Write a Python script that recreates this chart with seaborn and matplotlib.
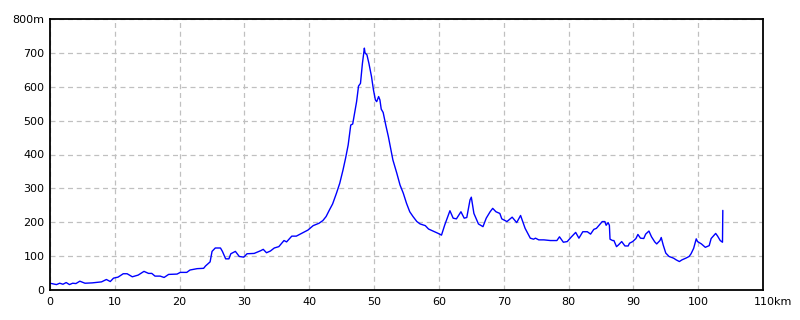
import matplotlib
matplotlib.use("Agg")
import matplotlib.pyplot as plt
import matplotlib.transforms as mtransforms
import seaborn as sns
import pandas as pd

km = [0.0, 0.5, 1.0, 1.5, 2.0, 2.5, 3.0, 3.5, 4.0, 4.6, 5.4, 6.5, 7.95, 8.7, 9.3, 9.8,
      10.5, 11.3, 11.9, 12.7, 13.6, 14.5, 15.2, 15.7, 16.2, 17.0, 17.6, 18.3, 19.6, 20.1,
      21.1, 21.6, 22.7, 23.7, 24.0, 24.7, 25.0, 25.5, 26.3, 26.6, 27.1, 27.6, 27.9, 28.6,
      29.2, 29.9, 30.4, 31.5, 32.5, 32.9, 33.4, 34.0, 34.6, 35.3, 36.1, 36.5, 37.3, 38.0,
      38.8, 39.8, 40.6, 41.5, 42.1, 42.6, 43.1, 43.6, 44.2, 44.7, 45.2, 45.6, 46.0, 46.4,
      46.7, 46.9, 47.3, 47.6, 47.9, 48.2, 48.5, 48.6, 48.9, 49.2, 49.6, 49.9, 50.2, 50.4,
      50.7, 50.9, 51.1, 51.4, 51.8, 52.2, 52.5, 52.9, 53.5, 54.0, 54.5, 55.0, 55.5, 56.0,
      56.6, 57.1, 57.9, 58.4, 59.1, 59.9, 60.4, 60.9, 61.7, 62.2, 62.7, 63.4, 63.9, 64.3,
      64.8, 65.0, 65.4, 66.1, 66.8, 67.3, 67.9, 68.3, 68.8, 69.4, 69.7, 70.5, 71.3, 72.0,
      72.6, 73.3, 74.1, 74.6, 74.9, 75.4, 76.2, 77.2, 78.2, 78.6, 79.2, 79.8, 80.4, 81.1,
      81.6, 82.2, 82.9, 83.4, 83.9, 84.3, 85.2, 85.6, 85.8, 86.1, 86.3, 86.4, 86.8, 87.0,
      87.4, 87.7, 88.2, 88.7, 89.2, 89.4, 89.9, 90.4, 90.7, 91.1, 91.6, 91.9, 92.4, 92.8,
      93.3, 93.6, 94.1, 94.3, 94.6, 95.0, 95.5, 96.2, 96.6, 97.1, 97.5, 98.1, 98.6, 98.9,
      99.3, 99.7, 99.9, 100.5, 101.1, 101.7, 102.0, 102.7, 103.0, 103.4, 103.75, 103.8]
elev = [20, 18, 16, 20, 17, 22, 16, 20, 19, 26, 20, 21, 24, 31, 25, 35,
        38, 48, 48, 39, 44, 55, 49, 49, 41, 41, 37, 46, 47, 52,
        52, 59, 63, 64, 71, 83, 114, 124, 124, 114, 92, 92, 107, 114,
        99, 97, 107, 108, 116, 120, 110, 115, 124, 128, 146, 142, 159, 159,
        167, 177, 190, 197, 205, 217, 236, 254, 286, 315, 354, 389, 428, 487,
        490, 512, 556, 602, 610, 669, 714, 700, 694, 669, 630, 591, 561, 556,
        571, 561, 534, 524, 487, 453, 423, 384, 345, 310, 286, 256, 231, 217,
        202, 195, 190, 180, 174, 167, 162, 192, 234, 212, 210, 231, 212, 214,
        266, 274, 226, 195, 187, 212, 231, 241, 231, 226, 210, 202, 215, 199,
        220, 182, 153, 150, 153, 148, 148, 146, 146, 157, 141, 143, 156, 170,
        153, 172, 172, 165, 179, 182, 202, 202, 191, 199, 191, 150, 146, 146,
        128, 133, 143, 130, 130, 138, 143, 152, 164, 153, 152, 165, 174, 157,
        142, 136, 146, 155, 133, 109, 99, 94, 89, 84, 89, 94, 99, 107,
        123, 151, 143, 136, 126, 131, 152, 167, 159, 146, 141, 235]

x_ticks = [0, 10, 20, 30, 40, 50, 60, 70, 80, 90, 100, 110]
x_labels = ["0", "10", "20", "30", "40", "50", "60", "70", "80", "90", "100", "110km"]
y_ticks = [0, 100, 200, 300, 400, 500, 600, 700, 800]
y_labels = ["0", "100", "200", "300", "400", "500", "600", "700", "800m"]

sns.set_theme(style="white")
plt.rcParams['font.family'] = ['DejaVu Sans']

fig = plt.figure(figsize=(8, 3.2), dpi=100)
ax = fig.add_axes([50/800, 30/320, 713/800, 271/320])

df = pd.DataFrame({"km": km, "elev": elev})
sns.lineplot(data=df, x="km", y="elev", ax=ax, color="#0000ff", linewidth=1.0,
             sort=False, estimator=None)

ax.set_xlim(0, 110)
ax.set_ylim(0, 800)
ax.set_xticks(x_ticks)
ax.set_xticklabels(x_labels)
ax.set_yticks(y_ticks)
ax.set_yticklabels(y_labels)
ax.set_xlabel("")
ax.set_ylabel("")
ax.grid(True, color="#c0c0c0", linestyle=(0, (4, 3)), linewidth=0.9)
ax.tick_params(axis="both", length=0, labelsize=8, colors="black")
ax.tick_params(axis="x", pad=5)
ax.tick_params(axis="y", pad=4)
for s in ax.spines.values():
    s.set_color("black")
    s.set_linewidth(1.3)

lab = ax.get_xticklabels()[-1]
lab.set_horizontalalignment("left")
lab.set_transform(lab.get_transform() + mtransforms.ScaledTranslation(-9/100, 0, fig.dpi_scale_trans))

fig.savefig("out.png", dpi=100, facecolor="white")
